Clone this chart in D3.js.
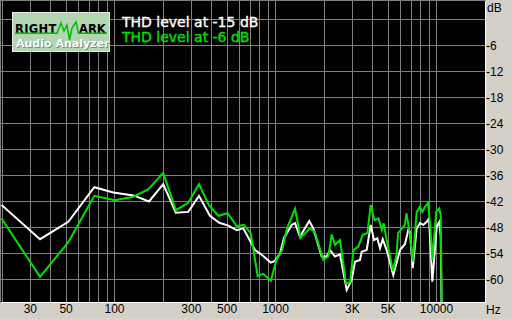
<!DOCTYPE html>
<html><head><meta charset="utf-8">
<script src="https://cdn.jsdelivr.net/npm/d3@7"></script>
<style>html,body{margin:0;padding:0;background:#D4D0C8;overflow:hidden}</style>
</head><body><svg id="c" width="512" height="319"></svg>
<script>
// ---- data ----
const seriesNames = ["THD level at -15 dB", "THD level at -6 dB"];
const seriesColors = ["#ffffff", "#00e000"];
const whiteFreq = [20,34.7,52,75.4,99,132,165,202,242,289,337,394,451,508,578,635,751,826,940,999,1074,1137,1269,1331,1429,1632,1729,1949,2094,2195,2358,2532,2787,2993,3138,3370,3454,3710,3930,4119,4318,4488,4665,4938,5428,5748,5974,6416,6726,6892,7163,7584,7950,8336,8750,9044,9482,10098,10482,10692,10940];
const whiteDb = [-42.8,-50.7,-46.7,-38.7,-39.9,-40.6,-42.0,-38.0,-44.6,-44.4,-40.7,-45.3,-46.9,-47.5,-48.6,-48.2,-53.2,-54.3,-56.1,-55.7,-54.0,-50.4,-47.4,-47.0,-50.1,-46.5,-48.2,-54.7,-54.7,-53.2,-54.7,-54.2,-62.4,-60.1,-55.9,-55.5,-53.6,-53.2,-47.4,-50.9,-50.5,-52.8,-50.7,-53.2,-59.0,-55.5,-53.2,-51.8,-48.6,-49.0,-57.4,-48.2,-47.0,-47.4,-46.7,-45.9,-60.5,-47.8,-46.7,-50.1,-80];
const greenFreq = [20,34.7,52,75.4,101,132,163,202,242,289,337,388,445,508,578,640,706,780,846,942,1020,1108,1187,1331,1440,1643,1765,1995,2143,2250,2358,2532,2760,2925,3070,3292,3506,3746,3930,4150,4390,4610,4722,4938,5400,5680,5810,6100,6400,6550,6892,7163,7584,7950,8222,8530,8930,9258,9482,10020,10470,10692,10940];
const greenDb = [-45.9,-59.4,-51.4,-40.7,-41.7,-40.9,-39.2,-35.4,-44.0,-42.3,-38.0,-42.8,-45.3,-44.7,-47.7,-47.4,-49.3,-59.2,-58.7,-60.3,-55.5,-53.2,-48.2,-43.7,-50.4,-48.2,-49.0,-55.5,-54.7,-49.6,-52.0,-50.9,-60.9,-60.6,-53.2,-52.4,-49.7,-49.3,-42.8,-46.3,-45.9,-48.6,-47.0,-50.9,-58.0,-54.3,-49.3,-48.4,-47.4,-44.7,-49.7,-55.9,-44.4,-43.2,-44.4,-43.2,-42.3,-49.0,-55.5,-44.4,-43.6,-45.1,-80];
const xTickValues = [30,50,100,300,500,1000,3000,5000,10000];
const xTickLabels = ["30","50","100","300","500","1000","3K","5K","10000"];
const xGridValues = [20,30,40,50,60,70,80,90,100,200,300,400,500,600,700,800,900,1000,2000,3000,4000,5000,6000,7000,8000,9000,10000,20000];
const yTickValues = [0,-6,-12,-18,-24,-30,-36,-42,-48,-54,-60];
const yTickLabels = ["","-6","-12","-18","-24","-30","-36","-42","-48","-54","-60"];

// ---- layout ----
const svg = d3.select("#c");
const P = {left:1, top:1, right:485, bottom:302};
const x = d3.scaleLog().domain([20,20000]).range([1.5,484.5]);
const y = d3.scaleLinear().domain([0,-60]).range([19.5,279.5]);
const tickFont = "'Liberation Sans Narrow','Arial Narrow','Liberation Sans',Arial,sans-serif";

// frame
svg.append("rect").attr("x",0).attr("y",0).attr("width",486).attr("height",303).attr("fill","#808080");
svg.append("rect").attr("x",1).attr("y",1).attr("width",485).attr("height",302).attr("fill","#ffffff");
svg.append("rect").attr("x",P.left).attr("y",P.top).attr("width",P.right-P.left).attr("height",P.bottom-P.top).attr("fill","#000");

svg.append("defs").append("clipPath").attr("id","clip").append("rect")
  .attr("x",P.left).attr("y",P.top).attr("width",P.right-P.left).attr("height",P.bottom-P.top);

const grid = svg.append("g").attr("clip-path","url(#clip)");
grid.selectAll("line.v").data(xGridValues).join("line")
  .attr("x1",d=>Math.round(x(d))+0.5).attr("x2",d=>Math.round(x(d))+0.5)
  .attr("y1",P.top).attr("y2",P.bottom).attr("stroke","#808080").attr("stroke-width",1);
grid.selectAll("line.h").data(yTickValues).join("line")
  .attr("y1",d=>Math.floor(y(d))+0.5).attr("y2",d=>Math.floor(y(d))+0.5)
  .attr("x1",P.left).attr("x2",P.right).attr("stroke","#808080").attr("stroke-width",1);

// y axis labels (right)
const yAxis = d3.axisRight(y).tickValues(yTickValues).tickSize(0).tickPadding(0)
  .tickFormat((d,i)=>yTickLabels[i]);
const yg = svg.append("g").attr("transform","translate(486,0)").call(yAxis);
yg.select(".domain").remove();
yg.selectAll("text").attr("font-family",tickFont).attr("font-size",12).attr("fill","#000");
svg.append("text").attr("x",487).attr("y",12).text("dB")
  .attr("font-family",tickFont).attr("font-size",12).attr("fill","#000");

// x axis labels
const xAxis = d3.axisBottom(x).tickValues(xTickValues).tickSize(0).tickPadding(2)
  .tickFormat((d,i)=>xTickLabels[i]);
const xg = svg.append("g").attr("transform","translate(0,302)").call(xAxis);
xg.select(".domain").remove();
xg.selectAll("text").attr("font-family",tickFont).attr("font-size",12).attr("fill","#000");
svg.append("text").attr("x",486).attr("y",314).text("Hz")
  .attr("font-family",tickFont).attr("font-size",12).attr("fill","#000");

// lines
const line = d3.line().x(d=>x(d[0])).y(d=>y(d[1]));
const plot = svg.append("g").attr("clip-path","url(#clip)");
const series = [d3.zip(whiteFreq,whiteDb), d3.zip(greenFreq,greenDb)];
series.forEach((s,i)=>{
  plot.append("path").datum(s).attr("d",line).attr("fill","none")
    .attr("stroke",seriesColors[i]).attr("stroke-width",2).attr("stroke-linejoin","miter");
});

// legend
seriesNames.forEach((n,i)=>{
  svg.append("text").attr("x",122).attr("y",27+i*14.5).text(n)
    .attr("font-family","'DejaVu Sans',sans-serif").attr("font-size",14).attr("fill",seriesColors[i])
    .attr("stroke",seriesColors[i]).attr("stroke-width",0.35);
});

// logo
const logo = svg.append("g").attr("transform","translate(12,12)");
logo.append("rect").attr("x",0).attr("y",0).attr("width",98).attr("height",40).attr("fill","#e8ece8");
logo.append("rect").attr("x",1).attr("y",1).attr("width",96).attr("height",38).attr("fill","#b2d6b2");
logo.append("text").attr("x",3).attr("y",20.5).text("RIGHT")
  .attr("font-family","'DejaVu Sans',sans-serif").attr("font-weight","bold").attr("font-size",11.5)
  .attr("letter-spacing",0.3).attr("fill","#000");
logo.append("text").attr("x",67).attr("y",20.5).text("ARK")
  .attr("font-family","'DejaVu Sans',sans-serif").attr("font-weight","bold").attr("font-size",11.5)
  .attr("letter-spacing",0).attr("fill","#000");
const wave = [[3,21.3],[45,21.3],[49,11],[52,19],[55,13],[57.5,28],[60,16],[64,10],[66.5,21.3],[95,21.3]];
logo.append("path").attr("d",d3.line()(wave)).attr("fill","none").attr("stroke","#00c000").attr("stroke-width",1.6);
logo.append("text").attr("x",5).attr("y",35.5).text("Audio Analyzer")
  .attr("font-family","'DejaVu Sans',sans-serif").attr("font-weight","bold").attr("font-size",11)
  .attr("fill","#7a8a7a");
logo.append("text").attr("x",4).attr("y",34.5).text("Audio Analyzer")
  .attr("font-family","'DejaVu Sans',sans-serif").attr("font-weight","bold").attr("font-size",11)
  .attr("fill","#ffffff");
</script></body></html>
